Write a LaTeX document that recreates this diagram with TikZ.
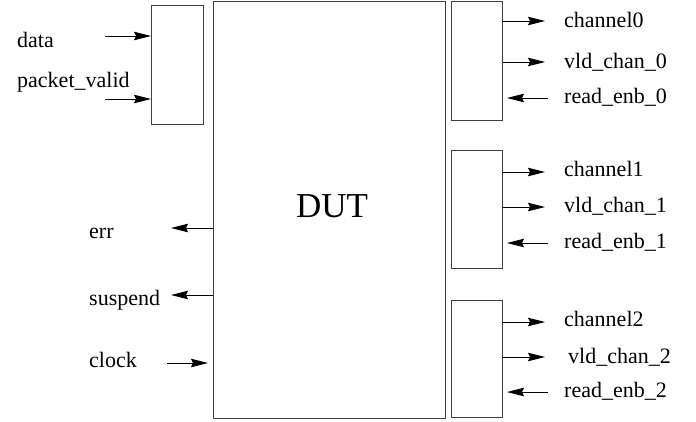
\documentclass[tikz,border=0pt]{standalone}
\usepackage{fontspec}
\setmainfont{Liberation Serif}
\usetikzlibrary{arrows.meta}
\begin{document}
\begin{tikzpicture}[x=1pt,y=-1pt,
  boxst/.style={draw=black!75,line width=0.9pt,anchor=north west,inner sep=0pt,rectangle},
  lbl/.style={anchor=base west,inner sep=0pt,font=\fontsize{22}{25}\selectfont},
  arr/.style={line width=0.9pt,-{Stealth[length=17pt,width=8.5pt,inset=2pt]}}]
\useasboundingbox (0,0) rectangle (696,421);
% boxes
\node[boxst,minimum width=232pt,minimum height=417pt] (dut) at (213,1) {};
\node[boxst,minimum width=52pt,minimum height=119pt] (inb) at (151,5) {};
\node[boxst,minimum width=51pt,minimum height=119pt] (b0) at (451,0.5) {};
\node[boxst,minimum width=51pt,minimum height=118pt] (b1) at (451,150) {};
\node[boxst,minimum width=51pt,minimum height=117pt] (b2) at (451,300) {};
\node[anchor=base west,inner sep=0pt,font=\fontsize{35}{40}\selectfont] (duttxt) at (296,217) {DUT};
% labels
\node[lbl] (ldata) at (17,47) {data};
\node[lbl] (lpv) at (17,87) {packet\_valid};
\node[lbl] (lerr) at (89,238) {err};
\node[lbl] (lsus) at (89,305) {suspend};
\node[lbl] (lclk) at (89,367) {clock};
\node[lbl] (lc0) at (564,27) {channel0};
\node[lbl] (lv0) at (564,68) {vld\_chan\_0};
\node[lbl] (lr0) at (564,103) {read\_enb\_0};
\node[lbl] (lc1) at (564,176) {channel1};
\node[lbl] (lv1) at (564,212) {vld\_chan\_1};
\node[lbl] (lr1) at (564,248) {read\_enb\_1};
\node[lbl] (lc2) at (564,326) {channel2};
\node[lbl] (lv2) at (568,363) {vld\_chan\_2};
\node[lbl] (lr2) at (564,397) {read\_enb\_2};
% free ends
\coordinate (pdata) at (105,36);
\coordinate (ppv) at (105,99);
\coordinate (perr) at (171,228);
\coordinate (psus) at (171,295);
\coordinate (pclk) at (167,363);
\coordinate (pclkend) at (208,363);
\coordinate (pc0) at (545,21);
\coordinate (pv0) at (545,62);
\coordinate (pr0) at (548,98);
\coordinate (pr0e) at (507,98);
\coordinate (pc1) at (545,172);
\coordinate (pv1) at (545,207);
\coordinate (pr1) at (548,243);
\coordinate (pr1e) at (507,243);
\coordinate (pc2) at (545,322);
\coordinate (pv2) at (545,357);
\coordinate (pr2) at (548,392);
\coordinate (pr2e) at (507,392);
% arrows
\draw[arr] (pdata) -- (inb.west |- pdata);
\draw[arr] (ppv) -- (inb.west |- ppv);
\draw[arr] (dut.west |- perr) -- (perr);
\draw[arr] (dut.west |- psus) -- (psus);
\draw[arr] (pclk) -- (pclkend);
\draw[arr] (b0.east |- pc0) -- (pc0);
\draw[arr] (b0.east |- pv0) -- (pv0);
\draw[arr] (pr0) -- (pr0e);
\draw[arr] (b1.east |- pc1) -- (pc1);
\draw[arr] (b1.east |- pv1) -- (pv1);
\draw[arr] (pr1) -- (pr1e);
\draw[arr] (b2.east |- pc2) -- (pc2);
\draw[arr] (b2.east |- pv2) -- (pv2);
\draw[arr] (pr2) -- (pr2e);
\end{tikzpicture}
\end{document}
